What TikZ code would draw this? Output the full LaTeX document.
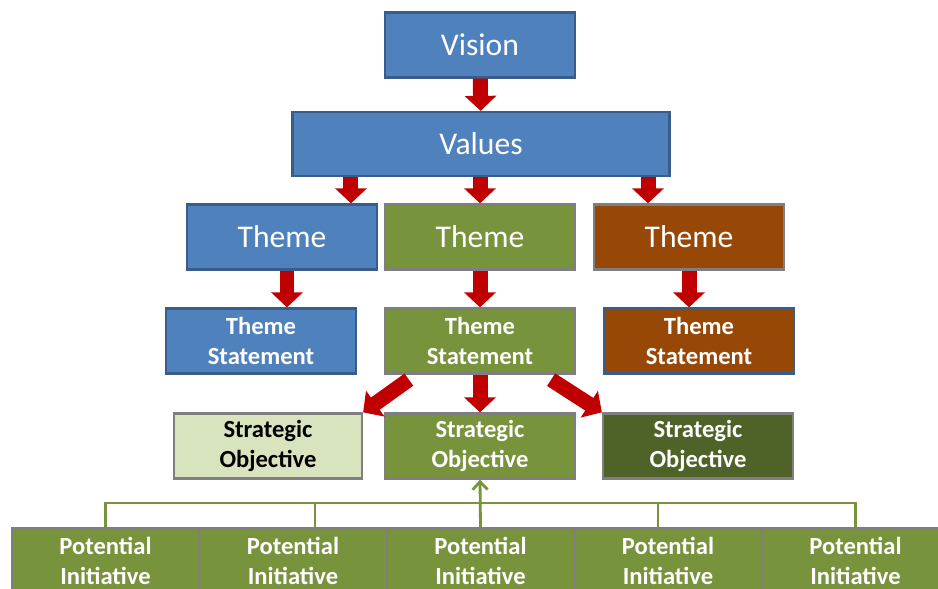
\documentclass[tikz,border=0pt]{standalone}
\usepackage{fontspec}
\setmainfont{Carlito}
\usetikzlibrary{arrows.meta}

\definecolor{valblue}{HTML}{4F81BD}
\definecolor{valline}{HTML}{385D8A}
\definecolor{olive}{HTML}{77933C}
\definecolor{rust}{HTML}{974806}
\definecolor{palegreen}{HTML}{D7E4BD}
\definecolor{darkolive}{HTML}{4F6228}
\definecolor{greyline}{HTML}{7F7F7F}
\definecolor{arrowred}{HTML}{C00000}

\begin{document}
\begin{tikzpicture}[x=0.02cm, y=-0.02cm,
    box/.style={draw=greyline, line width=1.3pt, fill=olive, text=white, align=center,
        inner sep=0pt, minimum width=3.8cm, minimum height=1.3cm},
    blue/.style={box, fill=valblue, draw=valline},
    big/.style={font=\fontsize{18}{21}\selectfont},
    small/.style={font=\fontsize{14}{17}\selectfont\bfseries},
    blockarrow/.style={draw=arrowred, line width=0.3cm, -{Triangle[width=0.62cm,length=0.3cm]}},
    link/.style={draw=olive, line width=1.6pt}]

    % Page frame
    \useasboundingbox (0,0) rectangle (938,589);
    \clip (0,0) rectangle (938,589);

    % Top levels
    \node[blue, big] (vision) at (480,45) {Vision};
    \node[blue, big, minimum width=7.54cm, minimum height=1.28cm] (values) at (481,144) {Values};

    % Themes
    \node[blue, big] (themeA) at (282,237) {Theme};
    \node[box, big] (themeB) at (480,237) {Theme};
    \node[box, big, fill=rust] (themeC) at (689,237) {Theme};

    % Theme statements
    \node[blue, small] (stmtA) at (261,341) {Theme\\Statement};
    \node[box, small] (stmtB) at (480,341) {Theme\\Statement};
    \node[box, small, fill=rust, draw=valline] (stmtC) at (699,341) {Theme\\Statement};

    % Strategic objectives
    \node[box, small, fill=palegreen, text=black, minimum width=3.76cm] (objA) at (268,446) {Strategic\\Objective};
    \node[box, small] (objB) at (480,446) {Strategic\\Objective};
    \node[box, small, fill=darkolive, minimum width=3.8cm] (objC) at (698,446) {Strategic\\Objective};

    % Potential initiatives along the bottom
    \foreach \i in {0,...,4}
        \node[box, small, minimum width=3.75cm, minimum height=1.3cm] (init\i) at ({105.5+187.5*\i},561) {Potential\\Initiative};

    % Red arrows
    \draw[blockarrow] (vision) -- (values);
    \draw[blockarrow] ([xshift=1.38cm]themeA.north |- values.south) -- ([xshift=1.38cm]themeA.north);
    \draw[blockarrow] (values.south -| themeB.north) -- (themeB.north);
    \draw[blockarrow] ([xshift=-0.82cm]themeC.north |- values.south) -- ([xshift=-0.82cm]themeC.north);

    \draw[blockarrow] ([xshift=0.1cm]themeA.south) -- ([xshift=0.1cm]themeA.south |- stmtA.north);
    \draw[blockarrow] (themeB) -- (stmtB);
    \draw[blockarrow] (themeC.south) -- (themeC.south |- stmtC.north);

    \draw[blockarrow] ([xshift=0.5cm,yshift=-0.1cm]stmtB.south west) -- (objA.north east);
    \draw[blockarrow] (stmtB) -- (objB);
    \draw[blockarrow] ([xshift=-0.5cm,yshift=-0.1cm]stmtB.south east) -- (objC.north west);

    % Bracket joining the initiatives
    \coordinate (bar) at (480,503);
    \draw[link] (init0.north) |- (bar) -| (init4.north);
    \draw[link] ([xshift=0.44cm]init1.north) -- ([xshift=0.44cm]init1.north |- bar);
    \draw[link] ([xshift=-0.2cm]init3.north) -- ([xshift=-0.2cm]init3.north |- bar);
    \draw[link, -{Straight Barb[width=0.3cm,length=0.16cm]}] (init2.north) -- (objB.south);
\end{tikzpicture}
\end{document}
